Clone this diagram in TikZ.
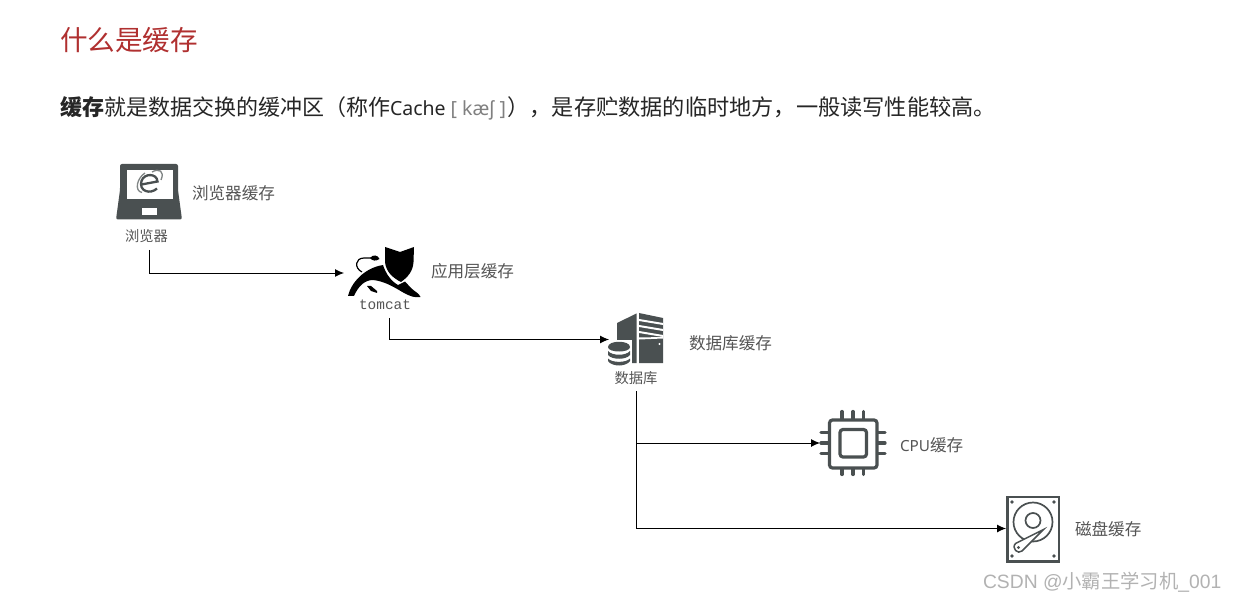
\documentclass[tikz,border=0pt]{standalone}
\usepackage{fontspec}
\setmainfont{Noto Sans CJK SC}
\newfontfamily\latinf{Noto Sans}
\newfontfamily\monof{Liberation Mono}
\newfontfamily\markf{Liberation Sans}
\usetikzlibrary{arrows.meta}
\definecolor{icon}{HTML}{4A5051}
\definecolor{lab}{HTML}{555555}
\definecolor{ttl}{HTML}{B03030}
\tikzset{
 txt/.style={inner sep=0pt,outer sep=0pt,anchor=west,text=lab},
 lbl/.style={txt,font=\fontsize{16.6}{18}\selectfont},
 sml/.style={inner sep=0pt,outer sep=0pt,text=lab,font=\fontsize{14.3}{16}\selectfont},
 link/.style={draw=black,line width=0.9pt,-{Latex[length=9pt,width=8pt]}},
 pin/.style={draw=icon,line width=3.2pt,line cap=round},
}
\begin{document}
\begin{tikzpicture}[x=1pt,y=-1pt]
\useasboundingbox (0,0) rectangle (1236,601);
\fill[white] (0,0) rectangle (1236,601);
% heading
\node[txt,text=ttl,font=\fontsize{27.6}{30}\selectfont] (title) at (60,40) {什么是缓存};
\node[txt,text=black!85,font=\fontsize{22}{24}\selectfont] (body) at (60,108)
 {\textbf{缓存}就是数据交换的缓冲区（称作{\latinf\fontsize{19.5}{24}\selectfont Cache\hspace{5pt}\textcolor{gray}{[ kæʃ ]}}\hspace{2pt}），{\fontsize{22.2}{24}\selectfont 是存贮数据的临时地方，一般读写性能较高。}};
% browser icon
\fill[icon,rounded corners=2pt] (120,164) -- (178,164) -- (178,190) -- (182,219.5) -- (116,219.5) -- (120,190) -- cycle;
\fill[white] (127,170) rectangle (172.5,199);
\fill[white] (142,208) rectangle (157,215);
\draw[icon,line width=2.3pt] (141.5,184.5) -- (157.5,181.5) .. controls (157,173) and (144,173) .. (141.5,181) .. controls (138.5,191) and (150,195) .. (157,188.5);
\draw[icon!70,line width=1.3pt] (145,173) .. controls (137,178) and (134,191) .. (142,192.5);
\draw[icon!70,line width=1.3pt] (152,172) .. controls (159,168) and (165,171) .. (161,180);
\coordinate (browser) at (149.5,250);
\node[sml] (browsertext) at (146.5,236) {浏览器};
\node[lbl] (l1) at (192,193.5) {浏览器缓存};
% tomcat icon
\fill[black] (385,247) -- (400,252) -- (414,247) -- (413.5,262) .. controls (413,271) and (408,277) .. (401,282) .. controls (393,278) and (386,272) .. (385,262) -- cycle;
\fill[black] (383,265) .. controls (386,274) and (391,281) .. (398,285) -- (405,281.5) -- (411,288) .. controls (415,292) and (419,293) .. (420.5,297) .. controls (414,298) and (410,296) .. (404,293) .. controls (394,287) and (384,281) .. (373,280) .. controls (364,280) and (358,287) .. (354,296) -- (348,296) .. controls (351,283) and (364,268) .. (383,265) -- cycle;
\draw[black,line width=1.2pt] (362,272) .. controls (354,268) and (355,258) .. (364,258) -- (372,258);
\fill[black] (370,258) .. controls (373,254) and (378,255) .. (379.5,259) .. controls (376,261.5) and (372,261) .. (370,258) -- cycle;
\fill[black] (367,286) -- (371,286) -- (377,291) -- (377,293) -- (371,291) -- cycle;
\node[inner sep=0pt,text=lab,font=\monof\fontsize{14.4}{14}\selectfont] (tomcat) at (385,304.5) {tomcat};
\node[lbl] (l2) at (431,271) {应用层缓存};
% database icon
\fill[icon] (617,323) -- (636.5,313.5) -- (636.5,363) -- (617,363) -- cycle;
\fill[icon] (639,313) -- (663,318) -- (663,363) -- (639,363) -- cycle;
\foreach \y/\h in {319/2,325/2,331/2}{\fill[white] (639,\y) -- (663,\y+4) -- (663,\y+4+\h) -- (639,\y+\h) -- cycle;}
\fill[white] (639,337.5) -- (663,337) -- (663,338.5) -- (639,339.5) -- cycle;
\fill[white] (659.5,344) circle (1.2);
\fill[white] (606,340) rectangle (632,367);
\fill[icon] (608,347) .. controls (608,340) and (630,340) .. (630,347) .. controls (630,353) and (608,353) .. (608,347) -- cycle;
\fill[icon] (608,351) .. controls (612,356) and (626,356) .. (630,351) -- (630,355) .. controls (626,360) and (612,360) .. (608,355) -- cycle;
\fill[icon] (608,358.5) .. controls (612,363) and (626,363) .. (630,358.5) -- (630,361) .. controls (626,367) and (612,367) .. (608,361) -- cycle;
\node[sml] (dbtext) at (636,378) {数据库};
\coordinate (dbbottom) at (636.5,391);
\node[lbl] (l3) at (689,343) {数据库缓存};
% cpu icon
\draw[icon,line width=3.2pt,rounded corners=3pt] (829.5,420) rectangle (877,468);
\draw[icon,line width=3.2pt,rounded corners=3pt] (840,429.5) rectangle (866.5,457);
\foreach \x in {842,853,863.5}{\draw[pin] (\x,411.5) -- (\x,419); \draw[pin] (\x,469) -- (\x,474.5);}
\foreach \y in {432.5,443,453.5}{\draw[pin] (821,\y) -- (828,\y); \draw[pin] (878,\y) -- (885,\y);}
\coordinate (cpu) at (820,443);
\node[lbl] (l4) at (900,445.5) {\latinf\fontsize{15.3}{18}\selectfont CPU\rmfamily\fontsize{16.6}{18}\selectfont 缓存};
% disk icon
\draw[icon,line width=2.8pt] (1007.5,497) rectangle (1059,561.5);
\draw[icon,line width=1.7pt] (1033,522) circle (19.5);
\draw[icon,line width=1.7pt] (1033,520.5) circle (7.5);
\draw[white,line width=6pt] (1018,547) -- (1042,530);
\draw[icon,line width=1.5pt,fill=white] (1015.5,543.5) -- (1043.5,529.5) -- (1022,551) .. controls (1018,555) and (1011,548) .. (1015.5,543.5) -- cycle;
\fill[icon] (1018.5,547.5) circle (1.6);
\foreach \x/\y in {1012/502,1054/502,1012/556,1054/556}{\fill[icon] (\x,\y) circle (1.8);}
\coordinate (disk) at (1006,528.5);
\node[lbl] (l5) at (1075,529.5) {磁盘缓存};
% connectors
\coordinate (tomin) at (344,273);
\coordinate (tomout) at (389.5,318);
\coordinate (dbin) at (609,339.5);
\draw[link] (browser) -- (149.5,273) -- (tomin);
\draw[link] (tomout) -- (389.5,339.5) -- (dbin);
\draw[link] (dbbottom) -- (636.5,443) -- (cpu);
\draw[link] (636.5,443) -- (636.5,528.5) -- (disk);
% watermark
\node[txt,text=black!30,font=\markf\fontsize{19.3}{22}\selectfont] (mark) at (983,582) {CSDN @\rmfamily\fontsize{19.3}{22}\selectfont 小霸王学习机\markf\_001};
\end{tikzpicture}
\end{document}
